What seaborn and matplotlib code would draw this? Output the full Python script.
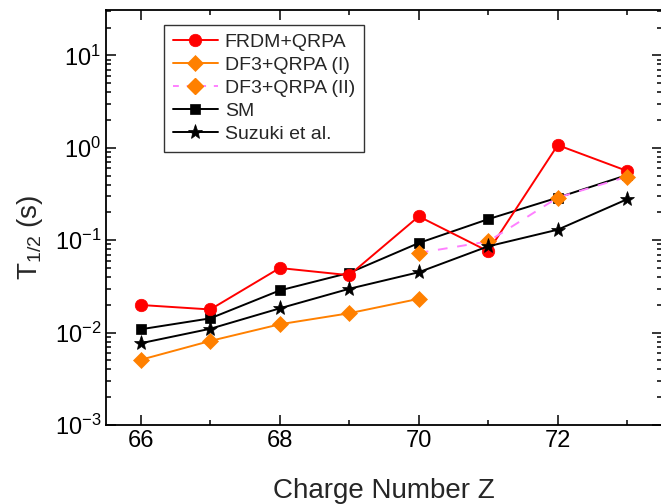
import numpy as np
import seaborn as sns
import matplotlib.pyplot as plt
from matplotlib.lines import Line2D
from matplotlib.ticker import LogLocator, MultipleLocator, NullFormatter

# charge number Z
z_all = [66, 67, 68, 69, 70, 71, 72, 73]
z_df3_1 = [66, 67, 68, 69, 70]
z_df3_2 = [70, 71, 72, 73]

# half-lives (s)
frdm = [0.0199, 0.0178, 0.050, 0.0418, 0.181, 0.0758, 1.07, 0.561]
df3_1 = [0.00508, 0.00812, 0.0123, 0.0162, 0.0232]
df3_2 = [0.0728, 0.097, 0.289, 0.487]
sm = [0.01086, 0.01426, 0.0286, 0.0443, 0.0932, 0.169, 0.289, 0.508]
suzuki = [0.00767, 0.0110, 0.0183, 0.0298, 0.0450, 0.0859, 0.130, 0.278]

sns.set_style("ticks")
plt.rcParams['font.family'] = ['Liberation Sans', 'DejaVu Sans']
plt.rcParams['mathtext.fontset'] = 'custom'
plt.rcParams['mathtext.rm'] = 'Liberation Sans'
plt.rcParams['mathtext.it'] = 'Liberation Sans:italic'

fig = plt.figure(figsize=(6.61, 5.04), dpi=100)
ax = fig.add_axes([106 / 661, 1 - 425 / 504, 556 / 661, 415 / 504])

lw = 1.4
sns.lineplot(x=z_all, y=sm, ax=ax, color='black', marker='s', markersize=7,
             mec='black', mew=0.5, lw=lw, label='SM', zorder=3)
sns.lineplot(x=z_all, y=frdm, ax=ax, color='#ff0000', marker='o', markersize=9,
             mec='#ff0000', mew=0.5, lw=lw, label='FRDM+QRPA', zorder=4)
sns.lineplot(x=z_df3_1, y=df3_1, ax=ax, color='#ff8000', marker='D', markersize=8,
             mec='#ff8000', mew=0.5, lw=lw, label='DF3+QRPA (I)', zorder=5)
ax.plot(z_df3_2, df3_2, color='#ff80ff', ls=(0, (5, 5)), lw=lw, zorder=5)
ax.plot(z_df3_2, df3_2, ls='none', marker='D', markersize=8, color='#ff8000',
        mec='#ff8000', mew=0.5, zorder=6)
sns.lineplot(x=z_all, y=suzuki, ax=ax, color='black', marker='*', markersize=11,
             mec='black', mew=0.5, lw=lw, label='Suzuki et al.', zorder=7)

ax.set_yscale('log')
ax.set_xlim(65.5, 73.5)
ax.set_ylim(1e-3, 31)

ax.xaxis.set_major_locator(MultipleLocator(2))
ax.xaxis.set_minor_locator(MultipleLocator(1))
ax.yaxis.set_major_locator(LogLocator(base=10, numticks=10))
ax.yaxis.set_minor_locator(LogLocator(base=10, subs=np.arange(2, 10), numticks=10))
ax.yaxis.set_minor_formatter(NullFormatter())

ax.tick_params(which='both', direction='in', top=True, right=True, width=1.1,
               labelsize=17, colors='black')
ax.tick_params(which='major', length=7)
ax.tick_params(which='minor', length=3.6)
for s in ax.spines.values():
    s.set_linewidth(1.3)
    s.set_color('black')

ax.set_xlabel('Charge Number Z', fontsize=20, labelpad=19)
ax.set_ylabel(r'T$_{1/2}$ (s)', fontsize=20)
ax.yaxis.set_label_coords(-0.11, 0.453)

# legend in the original order, with a stand-in handle for DF3 (II)
h = {t.get_label(): t for t in ax.get_lines()}
h2 = Line2D([], [], color='#ff80ff', ls=(0, (3, 4)), lw=lw, marker='D', markersize=8,
            mfc='#ff8000', mec='#ff8000')
handles = [h['FRDM+QRPA'], h['DF3+QRPA (I)'], h2, h['SM'], h['Suzuki et al.']]
labels = ['FRDM+QRPA', 'DF3+QRPA (I)', 'DF3+QRPA (II)', 'SM', 'Suzuki et al.']
leg = ax.legend(handles, labels, loc='upper left', bbox_to_anchor=(0.105, 0.965),
                fontsize=14, frameon=True, fancybox=False, framealpha=1,
                edgecolor='#333333', handlelength=2.3, handletextpad=0.35,
                labelspacing=0.28, borderpad=0.45, borderaxespad=0)
leg.get_frame().set_linewidth(1.0)

plt.savefig('out.png', dpi=100)
